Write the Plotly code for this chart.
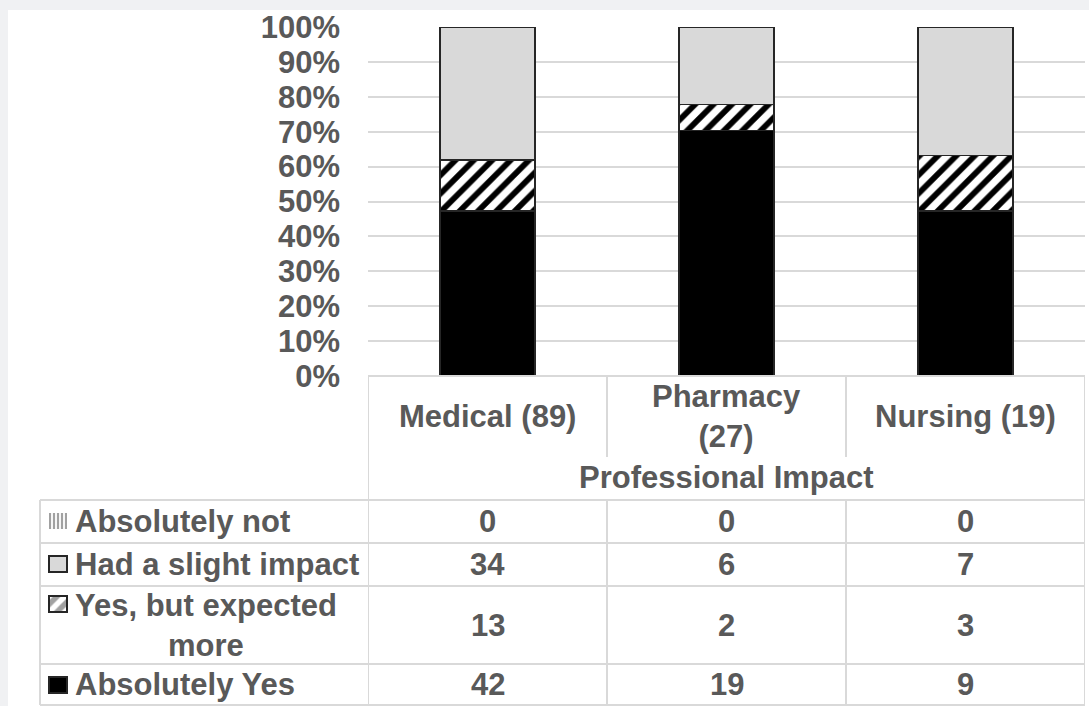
import plotly.graph_objects as go

# ---------------- data ----------------
categories = ["Medical (89)", "Pharmacy<br>(27)", "Nursing (19)"]
series_names = ["Absolutely Yes", "Yes, but expected more", "Had a slight impact", "Absolutely not"]
series_labels = ["Absolutely Yes", "Yes, but expected<br>more", "Had a slight impact", "Absolutely not"]
absolutely_yes = [42, 19, 9]
yes_but_more = [13, 2, 3]
slight_impact = [34, 6, 7]
absolutely_not = [0, 0, 0]
y_ticks = [0, 0.1, 0.2, 0.3, 0.4, 0.5, 0.6, 0.7, 0.8, 0.9, 1.0]
axis_title = "Professional Impact"

series_values = [absolutely_yes, yes_but_more, slight_impact, absolutely_not]
totals = [sum(v) for v in zip(*series_values)]
x_idx = list(range(len(categories)))

# ---------------- styles ----------------
W, H = 1089, 706
TXT = "#595959"
FONT = "Liberation Sans, Arial, sans-serif"
FS = 31
GRID = "#d9d9d9"
OUT = "#262626"
styles = [
    dict(color="#000000", pattern=dict(shape="")),
    dict(color="#ffffff", pattern=dict(shape="/", fgcolor="#000000", bgcolor="#ffffff",
                                       size=13, solidity=0.45, fillmode="replace")),
    dict(color="#d9d9d9", pattern=dict(shape="")),
    dict(color="#ffffff", pattern=dict(shape="|", fgcolor="#000000", bgcolor="#ffffff",
                                       size=4, solidity=0.5, fillmode="replace")),
]

def py(y):
    return 1 - y / H

def px(x):
    return x / W

fig = go.Figure()
for name, vals, st in zip(series_names, series_values, styles):
    fig.add_trace(go.Bar(
        x=x_idx, y=[v / t for v, t in zip(vals, totals)], name=name,
        width=0.4,
        marker=dict(color=st["color"], pattern=st["pattern"],
                    line=dict(color=OUT, width=1.8)),
        showlegend=False, hoverinfo="skip",
    ))

# ---------------- table layout (pixels) ----------------
plot_left, plot_right = 368, 1085
y0_px, y100_px = 376, 27
table_left = 40
header_split = 457
row_lines = [500, 543, 586, 664, 705]
row_order = list(reversed(range(len(series_names))))
row_centers = [(row_lines[i] + row_lines[i + 1]) / 2 for i in range(4)]
key_centers = [521, 564, 604, 685]

key_styles = [styles[i] for i in row_order]
fig.add_trace(go.Bar(
    xaxis="x2", yaxis="y2", orientation="h",
    y=key_centers, x=[18] * 4, base=[49] * 4, width=[16] * 4,
    marker=dict(
        color=[s["color"] for s in key_styles],
        pattern=dict(
            shape=[s["pattern"]["shape"] for s in key_styles],
            fgcolor="#000000",
            bgcolor=[s["color"] for s in key_styles],
            size=[4, 6, 11, 6],
            solidity=[0.55, 0.5, 0.5, 0.5],
        ),
        line=dict(color=OUT, width=[0, 1.5, 1.5, 1.5]),
    ),
    showlegend=False, hoverinfo="skip",
))

shapes = [dict(type="rect", xref="paper", yref="paper", x0=px(8), x1=1, y0=0, y1=py(10),
               fillcolor="white", line=dict(width=0), layer="below")]
line = dict(color=GRID, width=2)
shapes.append(dict(type="line", xref="x", yref="paper", x0=-0.5, x1=2.5,
                   y0=py(y0_px), y1=py(y0_px), line=line))
for yl in row_lines:
    shapes.append(dict(type="line", xref="paper", yref="paper", x0=px(table_left), x1=px(plot_right),
                       y0=py(yl), y1=py(yl), line=line))
for xb in [-0.5, 2.5]:
    shapes.append(dict(type="line", xref="x", yref="paper", x0=xb, x1=xb,
                       y0=py(y0_px), y1=py(row_lines[-1]), line=line))
for xb in [0.5, 1.5]:
    shapes.append(dict(type="line", xref="x", yref="paper", x0=xb, x1=xb,
                       y0=py(y0_px), y1=py(header_split), line=line))
    shapes.append(dict(type="line", xref="x", yref="paper", x0=xb, x1=xb,
                       y0=py(row_lines[0]), y1=py(row_lines[-1]), line=line))
shapes.append(dict(type="line", xref="paper", yref="paper", x0=px(table_left), x1=px(table_left),
                   y0=py(row_lines[0]), y1=py(row_lines[-1]), line=line))

font = dict(family=FONT, size=FS, color=TXT, weight="bold")
annotations = []
for i, c in enumerate(categories):
    annotations.append(dict(x=i, y=py(416), xref="x", yref="paper", text=c, showarrow=False,
                            font=font, xanchor="center", yanchor="middle", align="center"))
annotations.append(dict(x=1, y=py(477), xref="x", yref="paper", text=axis_title, showarrow=False,
                        font=font, xanchor="center", yanchor="middle"))
for r, si in enumerate(row_order):
    annotations.append(dict(x=px(73), y=py(row_centers[r]), xref="paper", yref="paper",
                            text=series_labels[si], showarrow=False, font=font,
                            xanchor="left", yanchor="middle", align="center"))
    for i in x_idx:
        annotations.append(dict(x=i, y=py(row_centers[r]), xref="x", yref="paper",
                                text=str(series_values[si][i]), showarrow=False, font=font,
                                xanchor="center", yanchor="middle"))

fig.update_layout(
    width=W, height=H,
    margin=dict(l=0, r=0, t=0, b=0, pad=0, autoexpand=False),
    paper_bgcolor="#f0f1f3",
    plot_bgcolor="rgba(0,0,0,0)",
    barmode="stack",
    showlegend=False,
    xaxis=dict(domain=[px(plot_left), px(plot_right)], range=[-0.5, 2.5],
               showticklabels=False, showgrid=False, zeroline=False, showline=False,
               automargin=False, fixedrange=True),
    yaxis=dict(domain=[py(y0_px), py(y100_px)], range=[0, 1], tickvals=y_ticks,
               tickformat=".0%", showgrid=True, gridcolor=GRID, gridwidth=2,
               zeroline=False, showline=False, ticks="",
               ticklabelstandoff=27, automargin=False,
               tickfont=dict(family=FONT, size=FS, color=TXT, weight="bold"),
               fixedrange=True),
    xaxis2=dict(domain=[0, 1], range=[0, W], visible=False, anchor="y2",
                automargin=False, fixedrange=True),
    yaxis2=dict(domain=[0, 1], range=[H, 0], visible=False, anchor="x2",
                automargin=False, fixedrange=True),
    shapes=shapes,
    annotations=annotations,
)

fig.write_html("out.html")
